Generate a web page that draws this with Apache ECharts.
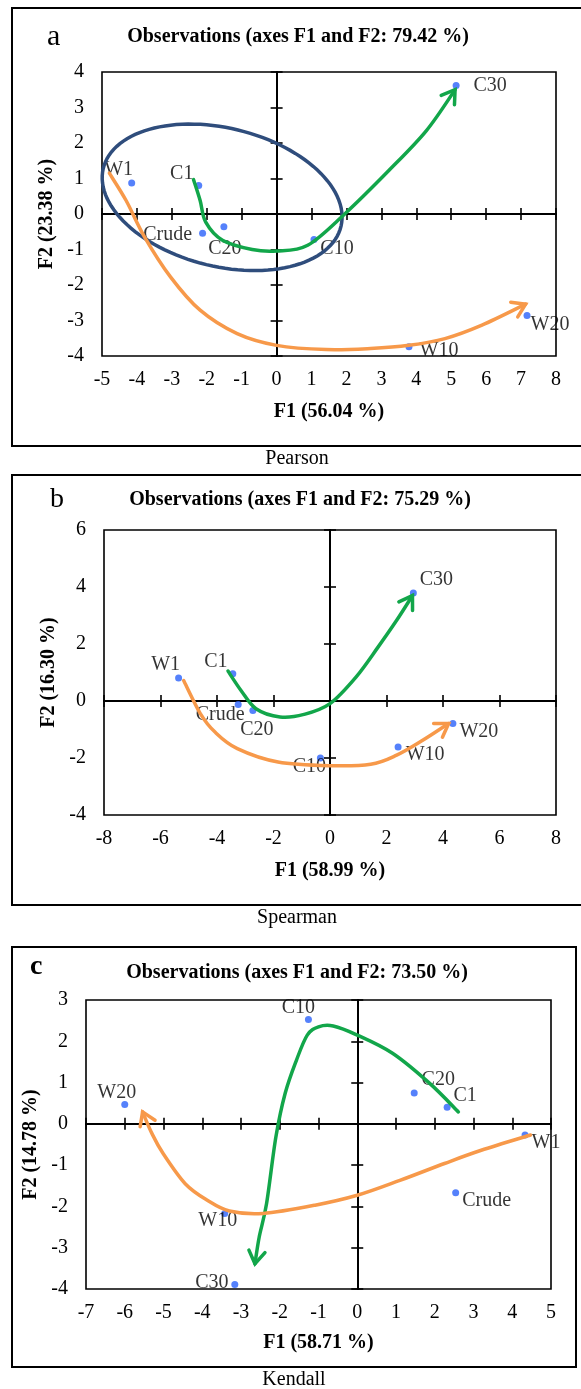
<!DOCTYPE html>
<html>
<head>
<meta charset="utf-8">
<script src="https://cdn.jsdelivr.net/npm/echarts@6/dist/echarts.min.js"></script>
<style>
  html, body { margin: 0; padding: 0; background: #fff; }
  #chart { width: 581px; height: 1389px; }
</style>
</head>
<body>
<div id="chart"></div>
<script>
// ---- data ----
// panel a (Pearson)
var obsA = ['W1', 'C1', 'Crude', 'C20', 'C10', 'C30', 'W10', 'W20'];
var f1A = [-4.15, -2.23, -2.12, -1.51, 1.07, 5.14, 3.79, 7.17];
var f2A = [0.87, 0.80, -0.54, -0.36, -0.72, 3.62, -3.74, -2.86];
// panel b (Spearman)
var obsB = ['W1', 'C1', 'Crude', 'C20', 'C10', 'C30', 'W10', 'W20'];
var f1B = [-5.36, -3.44, -3.25, -2.73, -0.34, 2.95, 2.41, 4.35];
var f2B = [0.81, 0.96, -0.12, -0.33, -2.00, 3.79, -1.61, -0.79];
// panel c (Kendall)
var obsC = ['W1', 'C1', 'Crude', 'C20', 'C10', 'C30', 'W10', 'W20'];
var f1C = [4.33, 2.32, 2.54, 1.47, -1.26, -3.16, -3.42, -6.00];
var f2C = [-0.27, 0.40, -1.67, 0.75, 2.53, -3.89, -2.17, 0.47];

// axis ranges [min, max, interval]
var xTicksA = [-5, 8, 1], yTicksA = [-4, 4, 1];
var xTicksB = [-8, 8, 2], yTicksB = [-4, 6, 2];
var xTicksC = [-7, 5, 1], yTicksC = [-4, 3, 1];

var titles = ['Observations (axes F1 and F2: 79.42 %)', 'Observations (axes F1 and F2: 75.29 %)', 'Observations (axes F1 and F2: 73.50 %)'];
var xNames = ['F1 (56.04 %)', 'F1 (58.99 %)', 'F1 (58.71 %)'];
var yNames = ['F2 (23.38 %)', 'F2 (16.30 %)', 'F2 (14.78 %)'];
var captions = ['Pearson', 'Spearman', 'Kendall'];

// hand-drawn trend arrows (waypoints in F1/F2 units)
var greenA = [[-2.38, 0.97], [-2.19, 0.38], [-2.03, -0.23], [-1.55, -0.74], [-0.70, -1.00], [0.0, -1.04], [0.89, -0.88], [1.95, 0], [3.22, 1.23], [4.29, 2.35], [5.11, 3.50]];
var orangeA = [[-4.79, 1.15], [-4.31, 0.38], [-3.78, -0.65], [-3.04, -1.77], [-2.19, -2.71], [-1.13, -3.37], [0, -3.70], [1.42, -3.82], [2.69, -3.79], [3.79, -3.70], [4.82, -3.51], [5.88, -3.13], [7.13, -2.54]];
var greenB = [[-3.61, 1.05], [-3.15, 0.37], [-2.62, -0.27], [-1.77, -0.56], [-0.92, -0.47], [0, -0.09], [0.92, 0.84], [1.70, 1.89], [2.36, 2.83], [2.92, 3.70]];
var orangeB = [[-5.18, 0.72], [-4.59, -0.44], [-4.07, -1.09], [-3.28, -1.67], [-1.84, -2.14], [0, -2.27], [1.44, -2.22], [2.36, -1.90], [3.28, -1.38], [4.20, -0.79]];
var greenC = [[2.61, 0.29], [1.87, 0.98], [0.91, 1.71], [0, 2.15], [-0.62, 2.37], [-1.0, 2.35], [-1.29, 2.15], [-1.57, 1.54], [-1.86, 0.74], [-2.10, -0.32], [-2.34, -1.93], [-2.53, -2.74], [-2.64, -3.39]];
var orangeC = [[4.47, -0.27], [3.20, -0.64], [2.25, -0.96], [1.10, -1.37], [0, -1.73], [-1.09, -1.97], [-2.43, -2.17], [-3.30, -2.11], [-3.87, -1.85], [-4.44, -1.45], [-5.01, -0.72], [-5.30, -0.23], [-5.54, 0.29]];
// grouping ellipse in panel a: centre, semi-axes, tilt (deg)
var ellipseA = { cx: -1.56, cy: 0.47, rx: 3.5, ry: 1.95, tilt: -13.4 };

// label offsets (px) per point, same order as the names
var offA = [[-13, -13], [-17, -12], [-35, 2], [1, 22], [23, 9], [34, 0], [30, 4], [23, 9]];
var offB = [[-13, -13], [-17, -12], [-18, 10], [4, 19], [-11, 9], [23, -13], [27, 8], [26, 8]];
var offC = [[21, 8], [18, -12], [31, 8], [24, -13], [-10, -12], [-23, -2], [-7, 7], [-8, -12]];

var FONT = "'Liberation Serif', 'Times New Roman', serif";
var GREEN = '#12A64A', ORANGE = '#F7994A', NAVY = '#2F4D7C', DOT = '#2A62FA';

var grids = [
  { left: 102, top: 72, width: 454, height: 284 },
  { left: 104, top: 530, width: 452, height: 285 },
  { left: 86, top: 1000, width: 465, height: 289 }
];
var nameGapX = [46, 46, 44], nameGapY = [41, 42, 33];
var xTicks = [xTicksA, xTicksB, xTicksC], yTicks = [yTicksA, yTicksB, yTicksC];

var xAxes = [], yAxes = [];
grids.forEach(function (g, i) {
  g.show = true; g.borderColor = '#000'; g.borderWidth = 1.6; g.backgroundColor = '#fff';
  var xt = xTicks[i], yt = yTicks[i];
  // labelled axes on the frame
  xAxes.push({
    type: 'value', gridIndex: i, min: xt[0], max: xt[1], interval: xt[2], position: 'bottom',
    axisLine: { show: false, onZero: false }, axisTick: { show: false }, splitLine: { show: false },
    axisLabel: { color: '#000', fontFamily: FONT, fontSize: 20, margin: 14 },
    name: xNames[i], nameLocation: 'middle', nameGap: nameGapX[i],
    nameTextStyle: { color: '#000', fontFamily: FONT, fontSize: 20, fontWeight: 'bold' }
  });
  yAxes.push({
    type: 'value', gridIndex: i, min: yt[0], max: yt[1], interval: yt[2], position: 'left',
    axisLine: { show: false, onZero: false }, axisTick: { show: false }, splitLine: { show: false },
    axisLabel: { color: '#000', fontFamily: FONT, fontSize: 20, margin: 18 },
    name: yNames[i], nameLocation: 'middle', nameGap: nameGapY[i],
    nameTextStyle: { color: '#000', fontFamily: FONT, fontSize: 20, fontWeight: 'bold' }
  });
  // zero lines with ticks crossing them (one axis for each side)
  [false, true].forEach(function (inside) {
    xAxes.push({
      type: 'value', gridIndex: i, min: xt[0], max: xt[1], interval: xt[2], position: 'bottom',
      axisLine: { show: true, onZero: true, lineStyle: { color: '#000', width: 2 } },
      axisTick: { show: true, inside: inside, length: 6, lineStyle: { color: '#000', width: 1.6 } },
      axisLabel: { show: false }, splitLine: { show: false }
    });
    yAxes.push({
      type: 'value', gridIndex: i, min: yt[0], max: yt[1], interval: yt[2], position: 'left',
      axisLine: { show: true, onZero: true, lineStyle: { color: '#000', width: 2 } },
      axisTick: { show: true, inside: inside, length: 6, lineStyle: { color: '#000', width: 1.6 } },
      axisLabel: { show: false }, splitLine: { show: false }
    });
  });
});

function pointSeries(i, names, f1, f2, offs) {
  return {
    type: 'scatter', xAxisIndex: i * 3, yAxisIndex: i * 3, z: 3,
    symbolSize: 7, itemStyle: { color: DOT }, silent: true,
    label: {
      show: true, position: [3.5, 3.5], align: 'center', verticalAlign: 'middle',
      formatter: '{b}', color: '#000', fontFamily: FONT, fontSize: 20
    },
    data: names.map(function (n, k) {
      return { name: n, value: [f1[k], f2[k]], label: { offset: offs[k] } };
    })
  };
}

function arrowSeries(i, pts, color) {
  return {
    type: 'custom', coordinateSystem: 'cartesian2d', xAxisIndex: i * 3, yAxisIndex: i * 3,
    z: 6, silent: true, clip: false, data: [[0, 0]],
    renderItem: function (params, api) {
      var p = pts.map(function (d) { return api.coord(d); });
      var path = 'M' + p[0][0] + ' ' + p[0][1];
      var lastC2 = p[0];
      for (var k = 0; k < p.length - 1; k++) {
        var p0 = p[k - 1] || p[k], p1 = p[k], p2 = p[k + 1], p3 = p[k + 2] || p[k + 1];
        var c1 = [p1[0] + (p2[0] - p0[0]) / 6, p1[1] + (p2[1] - p0[1]) / 6];
        var c2 = [p2[0] - (p3[0] - p1[0]) / 6, p2[1] - (p3[1] - p1[1]) / 6];
        path += ' C' + c1[0] + ' ' + c1[1] + ' ' + c2[0] + ' ' + c2[1] + ' ' + p2[0] + ' ' + p2[1];
        lastC2 = c2;
      }
      var end = p[p.length - 1];
      var dx = end[0] - lastC2[0], dy = end[1] - lastC2[1];
      var len = Math.sqrt(dx * dx + dy * dy) || 1;
      dx /= len; dy /= len;
      var L = 15, a = Math.PI / 5.5;
      function arm(s) {
        var ca = Math.cos(s * a), sa = Math.sin(s * a);
        var rx = dx * ca - dy * sa, ry = dx * sa + dy * ca;
        return [end[0] - rx * L, end[1] - ry * L];
      }
      return {
        type: 'group',
        children: [
          { type: 'path', shape: { pathData: path }, style: { fill: null, stroke: color, lineWidth: 3.5, lineCap: 'round' } },
          { type: 'polyline', shape: { points: [arm(1), end, arm(-1)] }, style: { fill: null, stroke: color, lineWidth: 3.5, lineJoin: 'miter', lineCap: 'round' } }
        ]
      };
    }
  };
}

function ellipseSeries(i, e, color) {
  return {
    type: 'custom', coordinateSystem: 'cartesian2d', xAxisIndex: i * 3, yAxisIndex: i * 3,
    z: 4, silent: true, clip: false, data: [[e.cx, e.cy]],
    renderItem: function (params, api) {
      var t = e.tilt * Math.PI / 180, pts = [];
      for (var k = 0; k < 120; k++) {
        var u = k / 120 * Math.PI * 2;
        var ex = e.rx * Math.cos(u), ey = e.ry * Math.sin(u);
        pts.push(api.coord([e.cx + ex * Math.cos(t) - ey * Math.sin(t), e.cy + ex * Math.sin(t) + ey * Math.cos(t)]));
      }
      return { type: 'polygon', shape: { points: pts, smooth: 0 }, style: { fill: null, stroke: color, lineWidth: 3.5 } };
    }
  };
}

var boxes = [
  { x: 12, y: 8, width: 580, height: 438 },
  { x: 12, y: 475, width: 580, height: 430 },
  { x: 12, y: 947, width: 564, height: 420 }
];
var titlePos = [[298, 37], [300, 500], [297, 973]];
var captionPos = [[297, 459], [297, 918], [294, 1380]];
var letters = [
  { text: 'a', x: 47, y: 37, size: 30, weight: 'normal' },
  { text: 'b', x: 50, y: 500, size: 28, weight: 'normal' },
  { text: 'c', x: 30, y: 967, size: 28, weight: 'bold' }
];

var graphic = [];
boxes.forEach(function (b, i) {
  graphic.push({ type: 'rect', shape: b, style: { fill: null, stroke: '#000', lineWidth: 2 }, z: -1, silent: true });
  graphic.push({ type: 'text', x: titlePos[i][0], y: titlePos[i][1], silent: true,
    style: { text: titles[i], fill: '#000', font: 'bold 20px ' + FONT, textAlign: 'center', textVerticalAlign: 'middle' } });
  graphic.push({ type: 'text', x: captionPos[i][0], y: captionPos[i][1], silent: true,
    style: { text: captions[i], fill: '#000', font: '20px ' + FONT, textAlign: 'center', textVerticalAlign: 'middle' } });
  var l = letters[i];
  graphic.push({ type: 'text', x: l.x, y: l.y, silent: true,
    style: { text: l.text, fill: '#000', font: l.weight + ' ' + l.size + 'px ' + FONT, textAlign: 'left', textVerticalAlign: 'middle' } });
});

var chart = echarts.init(document.getElementById('chart'), null, { renderer: 'canvas' });
chart.setOption({
  animation: false,
  backgroundColor: '#fff',
  grid: grids,
  xAxis: xAxes,
  yAxis: yAxes,
  graphic: graphic,
  series: [
    pointSeries(0, obsA, f1A, f2A, offA),
    ellipseSeries(0, ellipseA, NAVY),
    arrowSeries(0, greenA, GREEN),
    arrowSeries(0, orangeA, ORANGE),
    pointSeries(1, obsB, f1B, f2B, offB),
    arrowSeries(1, greenB, GREEN),
    arrowSeries(1, orangeB, ORANGE),
    pointSeries(2, obsC, f1C, f2C, offC),
    arrowSeries(2, greenC, GREEN),
    arrowSeries(2, orangeC, ORANGE)
  ]
});
</script>
</body>
</html>
